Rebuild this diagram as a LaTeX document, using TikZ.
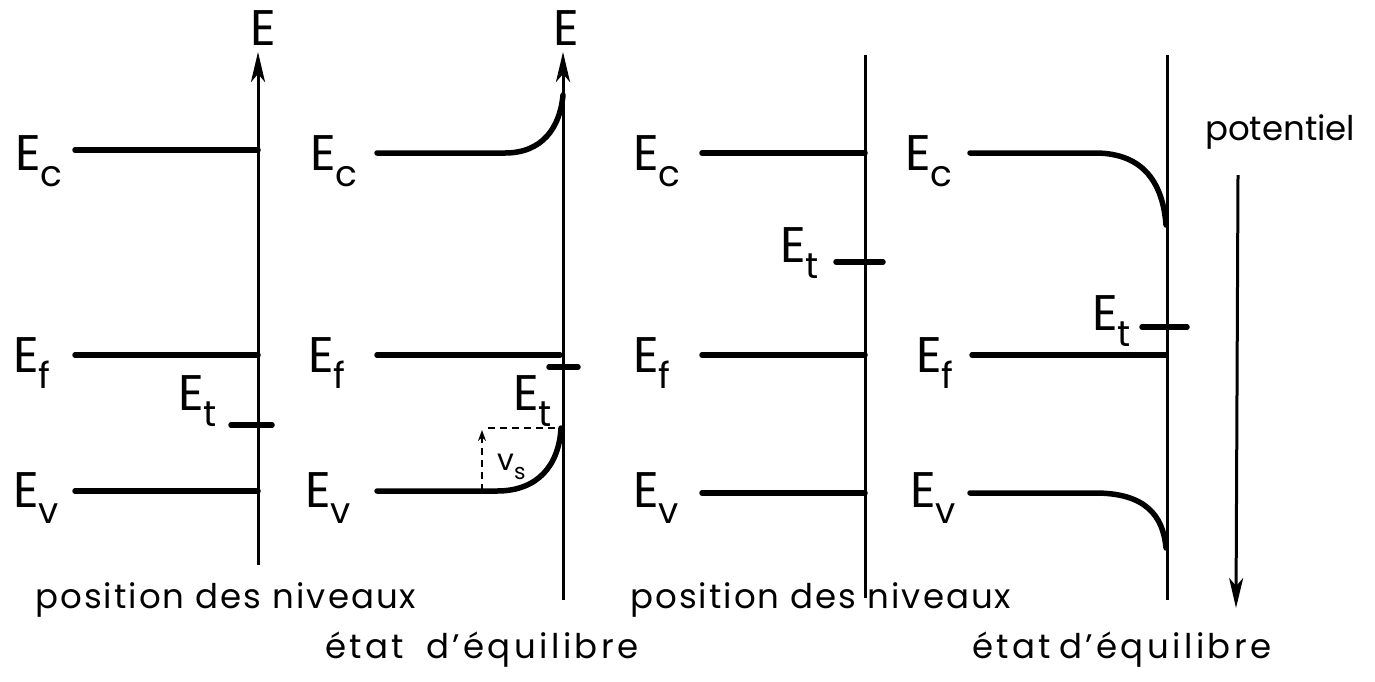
\documentclass[tikz,border=0pt]{standalone}
\usepackage{fontspec}
\setmainfont{Poppins}
\usetikzlibrary{arrows.meta}
\newcommand{\lvlE}[1]{E\raisebox{-0.32em}{\fontsize{36}{36}\selectfont #1}}
\tikzset{
  level/.style={line width=5.5pt, line cap=round},
  axis/.style={line width=3pt},
  axarrow/.style={line width=3pt, -{Stealth[length=30pt,width=14pt,inset=8pt]}},
  lbl/.style={inner sep=0pt, anchor=base west, font=\fontsize{50}{50}\selectfont},
  txt/.style={inner sep=0pt, anchor=base west, font=\fontsize{34}{34}\selectfont},
  dsh/.style={line width=2.2pt, dash pattern=on 7pt off 5pt}
}
\begin{document}
\begin{tikzpicture}[x=1pt,y=-1pt]
\useasboundingbox (0,0) rectangle (1375,681);
% ---------- panel 1 ----------
\coordinate (a1b) at (258,565); \coordinate (a1t) at (258,52);
\draw[axarrow] (a1b) -- (a1t);
\node[inner sep=0pt, anchor=base, font=\fontsize{50}{50}\selectfont] (E1) at (263,45) {E};
\coordinate (c1a) at (75,150); \coordinate (c1b) at (258,150);
\coordinate (f1a) at (75,355); \coordinate (f1b) at (258,355);
\coordinate (t1a) at (231,425); \coordinate (t1b) at (272,425);
\coordinate (v1a) at (75,491); \coordinate (v1b) at (258,491);
\draw[level] (c1a) -- (c1b);
\draw[level] (f1a) -- (f1b);
\draw[level] (t1a) -- (t1b);
\draw[level] (v1a) -- (v1b);
\node[lbl] (lc1) at (15,170) {\lvlE{c}};
\node[lbl] (lf1) at (13,372) {\lvlE{f}};
\node[lbl] (lt1) at (178,410) {\lvlE{t}};
\node[lbl] (lv1) at (13,507) {\lvlE{v}};
\node[txt] (p1) at (35,608) {\addfontfeatures{LetterSpace=6}position des niveaux};
% ---------- panel 2 ----------
\coordinate (a2b) at (563,600); \coordinate (a2t) at (563,52);
\draw[axarrow] (a2b) -- (a2t);
\node[inner sep=0pt, anchor=base, font=\fontsize{50}{50}\selectfont] (E2) at (566,45) {E};
\coordinate (c2a) at (377,153); \coordinate (c2m) at (505,153); \coordinate (c2e) at (563,95);
\draw[level] (c2a) -- (c2m) .. controls (542,153) and (560,128) .. (c2e);
\coordinate (f2a) at (377,355); \coordinate (f2b) at (560,355);
\draw[level] (f2a) -- (f2b);
\coordinate (t2a) at (549,367); \coordinate (t2b) at (578,367);
\draw[level] (t2a) -- (t2b);
\coordinate (v2a) at (377,491); \coordinate (v2m) at (497,491); \coordinate (v2e) at (561,428);
\draw[level] (v2a) -- (v2m) .. controls (538,491) and (559,465) .. (v2e);
\coordinate (d2a) at (488,428);
\draw[dsh] (d2a) -- (v2e);
\coordinate (s2b) at (482,491); \coordinate (s2t) at (482,430);
\draw[dsh, -{Stealth[length=11pt,width=8pt]}] (s2b) -- (s2t);
\node[inner sep=0pt, anchor=base west, font=\fontsize{30}{30}\selectfont] (vs) at (497,470) {v\raisebox{-0.3em}{\fontsize{22}{22}\selectfont s}};
\node[lbl] (lc2) at (310,170) {\lvlE{c}};
\node[lbl] (lf2) at (308,372) {\lvlE{f}};
\node[lbl] (lt2) at (513,410) {\lvlE{t}};
\node[lbl] (lv2) at (305,507) {\lvlE{v}};
\node[txt] (q2) at (325,658) {\addfontfeatures{LetterSpace=10}état\hspace{22pt}d'équilibre};
% ---------- panel 3 ----------
\coordinate (a3b) at (865,598); \coordinate (a3t) at (865,55);
\draw[axis] (a3b) -- (a3t);
\coordinate (c3a) at (702,153); \coordinate (c3b) at (865,153);
\coordinate (t3a) at (836,262); \coordinate (t3b) at (883,262);
\coordinate (f3a) at (702,355); \coordinate (f3b) at (865,355);
\coordinate (v3a) at (702,493); \coordinate (v3b) at (865,493);
\draw[level] (c3a) -- (c3b);
\draw[level] (t3a) -- (t3b);
\draw[level] (f3a) -- (f3b);
\draw[level] (v3a) -- (v3b);
\node[lbl] (lc3) at (633,170) {\lvlE{c}};
\node[lbl] (lt3) at (780,262) {\lvlE{t}};
\node[lbl] (lf3) at (633,372) {\lvlE{f}};
\node[lbl] (lv3) at (633,507) {\lvlE{v}};
\node[txt] (p3) at (630,608) {\addfontfeatures{LetterSpace=6}position des niveaux};
% ---------- panel 4 ----------
\coordinate (a4b) at (1167,600); \coordinate (a4t) at (1167,55);
\draw[axis] (a4b) -- (a4t);
\coordinate (c4a) at (970,153); \coordinate (c4m) at (1095,153); \coordinate (c4e) at (1166,225);
\draw[level] (c4a) -- (c4m) .. controls (1145,153) and (1163,185) .. (c4e);
\coordinate (t4a) at (1142,327); \coordinate (t4b) at (1187,327);
\draw[level] (t4a) -- (t4b);
\coordinate (f4a) at (972,355); \coordinate (f4b) at (1166,355);
\draw[level] (f4a) -- (f4b);
\coordinate (v4a) at (970,493); \coordinate (v4m) at (1095,493); \coordinate (v4e) at (1166,548);
\draw[level] (v4a) -- (v4m) .. controls (1145,493) and (1163,515) .. (v4e);
\node[lbl] (lc4) at (905,170) {\lvlE{c}};
\node[lbl] (lt4) at (1092,330) {\lvlE{t}};
\node[lbl] (lf4) at (916,372) {\lvlE{f}};
\node[lbl] (lv4) at (910,507) {\lvlE{v}};
\node[txt] (q4) at (972,658) {\addfontfeatures{LetterSpace=10}état\hspace{8pt}d'équilibre};
% potential arrow
\coordinate (pt) at (1238,175); \coordinate (pb) at (1236,608);
\draw[axarrow] (pt) -- (pb);
\node[txt] (pot) at (1205,140) {potentiel};
\end{tikzpicture}
\end{document}
